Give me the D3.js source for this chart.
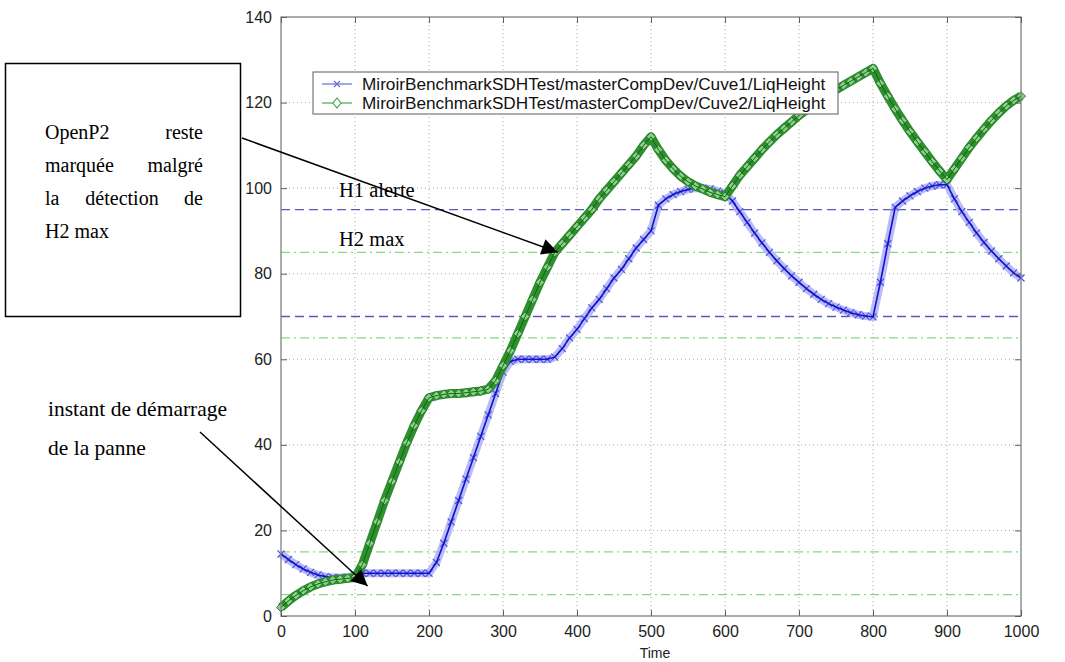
<!DOCTYPE html>
<html><head><meta charset="utf-8">
<script src="https://cdn.jsdelivr.net/npm/d3@7"></script>
<style>body{margin:0;background:#fff}svg{display:block}</style>
</head><body>
<svg id="c" width="1065" height="662"></svg>
<script>
const times = [0,10,20,30,40,50,60,70,80,90,100,110,120,130,140,150,160,170,180,190,200,
210,220,230,240,250,260,270,280,290,300,310,320,330,340,350,360,370,380,390,400,
410,420,430,440,450,460,470,480,490,500,510,520,530,540,550,560,570,580,590,600,
610,620,630,640,650,660,670,680,690,700,710,720,730,740,750,760,770,780,790,800,
810,820,830,840,850,860,870,880,890,900,910,920,930,940,950,960,970,980,990,1000];
const cuve1 = [14.5,13.2,12,11,10.2,9.6,9.2,9,9,9.1,9.5,
10,10,10,10,10,10,10,10,10,10,
12.5,17,22,27,32,37,42,47,52,57,
59.5,60,60,60,60,60,60.5,62.5,65,67,
69.5,72,74,76.5,79,81,83.5,86,88,90,
96,97.5,98.5,99.2,99.7,100,100,99.8,99.3,98.8,
97,94.5,92,89.5,87.2,85,83,81.2,79.5,78,
76.5,75.2,74,73,72.2,71.5,70.9,70.4,70.1,69.9,
78,87,95.5,97,98.2,99.2,100,100.5,100.8,100.8,
97.5,94.5,92,89.5,87.3,85.3,83.5,81.8,80.2,79];
const cuve2 = [2,3.5,4.8,5.9,6.8,7.5,8,8.4,8.6,8.8,9,
12,17,22,27,31.5,36,40.5,44.5,48,51,
51.5,51.8,52,52,52.2,52.4,52.6,53,55,58.5,
62,66,70,74,78,81.5,85,87,89,91,
93,95,97.5,99.5,101.5,103.5,105.5,107.5,110,112,
109,106.5,104.5,102.8,101.5,100.5,99.8,99,98.5,98,
100.5,103,105,107,109,110.8,112.5,114,115.5,117,
118.3,119.5,120.8,122,123,124,125,126,127,128,
124.5,121.5,118.5,115.8,113.2,110.8,108.5,106.2,104,102,
104.5,107,109.5,111.7,113.8,115.8,117.6,119.2,120.5,121.5];
const seriesNames = ["MiroirBenchmarkSDHTest/masterCompDev/Cuve1/LiqHeight","MiroirBenchmarkSDHTest/masterCompDev/Cuve2/LiqHeight"];
const xTicks = [0,100,200,300,400,500,600,700,800,900,1000];
const yTicks = [0,20,40,60,80,100,120,140];
const blueRefs = [95,70];
const greenRefs = [85,65,15,5];
const xLabel = "Time";
const boxLines = [["OpenP2","reste"],["marquée","malgré"],["la","détection","de"],["H2 max"]];
const panneLines = ["instant de démarrage","de la panne"];
const refLabels = ["H1 alerte","H2 max"];

const svg = d3.select("#c");
const L=281,R=1021,T=17,B=616;
const x = d3.scaleLinear().domain([0,1000]).range([L,R]);
const y = d3.scaleLinear().domain([0,140]).range([B,T]);
const sans="Liberation Sans, Arial, sans-serif";

// grid
const g = svg.append("g");
g.selectAll(".gx").data(xTicks.slice(1,-1)).join("line")
 .attr("x1",d=>x(d)).attr("x2",d=>x(d)).attr("y1",T).attr("y2",B)
 .attr("stroke","#aaa").attr("stroke-width",1).attr("stroke-dasharray","1,3");
g.selectAll(".gy").data(yTicks.slice(1,-1)).join("line")
 .attr("y1",d=>y(d)).attr("y2",d=>y(d)).attr("x1",L).attr("x2",R)
 .attr("stroke","#aaa").attr("stroke-width",1).attr("stroke-dasharray","1,3");

// reference lines
g.selectAll(".rb").data(blueRefs).join("line")
 .attr("x1",L).attr("x2",R).attr("y1",d=>y(d)).attr("y2",d=>y(d))
 .attr("stroke","#5a5ab8").attr("stroke-width",1.3).attr("stroke-dasharray","9,5");
g.selectAll(".rg").data(greenRefs).join("line")
 .attr("x1",L).attr("x2",R).attr("y1",d=>y(d)).attr("y2",d=>y(d))
 .attr("stroke","#86d886").attr("stroke-width",1.3).attr("stroke-dasharray","9,4,2,4");

const line = d3.line().x((d,i)=>x(times[i])).y(d=>y(d));

// series 1 (blue, x markers)
svg.append("path").attr("d",line(cuve1)).attr("fill","none").attr("stroke","#aeb0f2").attr("stroke-width",8).attr("stroke-linejoin","round").attr("opacity",0.85);
svg.append("g").selectAll("path").data(cuve1).join("path")
 .attr("d",(d,i)=>{const cx=x(times[i]),cy=y(d),s=3.5;return `M${cx-s},${cy-s}L${cx+s},${cy+s}M${cx-s},${cy+s}L${cx+s},${cy-s}`;})
 .attr("stroke","#5050e0").attr("stroke-width",1.2);
svg.append("path").attr("d",line(cuve1)).attr("fill","none").attr("stroke","#1010d0").attr("stroke-width",1.6);

// series 2 (green, diamonds)
svg.append("path").attr("d",line(cuve2)).attr("fill","none").attr("stroke","#2f8f2f").attr("stroke-width",9).attr("stroke-linejoin","round");
svg.append("g").selectAll("path").data(cuve2).join("path")
 .attr("d",(d,i)=>{const cx=x(times[i]),cy=y(d),s=4.5;return `M${cx},${cy-s}L${cx+s},${cy}L${cx},${cy+s}L${cx-s},${cy}Z`;})
 .attr("fill","#8fce8f").attr("stroke","#1d7a1d").attr("stroke-width",1);
svg.append("path").attr("d",line(cuve2)).attr("fill","none").attr("stroke","#0a6a0a").attr("stroke-width",1);

// axes frame
const ax = svg.append("g");
ax.append("rect").attr("x",L).attr("y",T).attr("width",R-L).attr("height",B-T).attr("fill","none").attr("stroke","#808080").attr("stroke-width",1.3);
const xb = d3.axisBottom(x).tickValues(xTicks).tickSize(-6).tickPadding(10).tickFormat(d3.format("d"));
ax.append("g").attr("transform",`translate(0,${B})`).call(xb).call(s=>{s.select(".domain").remove();s.selectAll("line").attr("stroke","#606060");s.selectAll("text").attr("font-family",sans).attr("font-size",16).attr("fill","#222");});
ax.append("g").attr("transform",`translate(0,${T})`).call(d3.axisTop(x).tickValues(xTicks).tickSize(-6).tickFormat("")).call(s=>{s.select(".domain").remove();s.selectAll("line").attr("stroke","#606060");});
const yl = d3.axisLeft(y).tickValues(yTicks).tickSize(-6).tickPadding(9).tickFormat(d3.format("d"));
ax.append("g").attr("transform",`translate(${L},0)`).call(yl).call(s=>{s.select(".domain").remove();s.selectAll("line").attr("stroke","#606060");s.selectAll("text").attr("font-family",sans).attr("font-size",16).attr("fill","#222");});
ax.append("g").attr("transform",`translate(${R},0)`).call(d3.axisRight(y).tickValues(yTicks).tickSize(-6).tickFormat("")).call(s=>{s.select(".domain").remove();s.selectAll("line").attr("stroke","#606060");});
svg.append("text").attr("x",655).attr("y",658).attr("text-anchor","middle").attr("font-family",sans).attr("font-size",14).attr("fill","#222").text(xLabel);

// legend
const lg = svg.append("g");
lg.append("rect").attr("x",313).attr("y",72).attr("width",525).attr("height",42).attr("fill","#fff").attr("stroke","#777").attr("stroke-width",1.2);
const rows=[{c:"#6a6ad8",m:"x"},{c:"#4aa84a",m:"d"}];
rows.forEach((r,i)=>{
  const yy=84+i*19;
  lg.append("line").attr("x1",322).attr("x2",352).attr("y1",yy).attr("y2",yy).attr("stroke",r.c).attr("stroke-width",1.2);
  if(r.m==="x"){lg.append("path").attr("d",`M334,${yy-3}L340,${yy+3}M334,${yy+3}L340,${yy-3}`).attr("stroke",r.c).attr("stroke-width",1.2);}
  else{lg.append("path").attr("d",`M337,${yy-5}L341,${yy}L337,${yy+5}L333,${yy}Z`).attr("stroke",r.c).attr("fill","#fff").attr("stroke-width",1.2);}
  lg.append("text").attr("x",362).attr("y",yy+6).attr("font-family",sans).attr("font-size",17.2).attr("fill","#111").text(seriesNames[i]);
});

// annotations
const serif="Liberation Serif, Times New Roman, serif";
svg.append("rect").attr("x",5.5).attr("y",63.5).attr("width",235).attr("height",253).attr("fill","none").attr("stroke","#000").attr("stroke-width",1.5);
const bx0=45,bx1=203,by=[139,172,205,238];
boxLines.forEach((words,i)=>{
  words.forEach((w,j)=>{
    let xx,anc;
    if(j===0){xx=bx0;anc="start";}
    else if(j===words.length-1){xx=bx1;anc="end";}
    else {xx=(bx0+bx1)/2-2;anc="middle";}
    svg.append("text").attr("x",xx).attr("y",by[i]).attr("text-anchor",anc).attr("font-family",serif).attr("font-size",20).attr("fill","#000").text(w);
  });
});
panneLines.forEach((t,i)=>svg.append("text").attr("x",48).attr("y",416+i*39).attr("font-family",serif).attr("font-size",21.5).attr("fill","#000").text(t));
refLabels.forEach((t,i)=>svg.append("text").attr("x",339).attr("y",197+i*49).attr("font-family",serif).attr("font-size",20.5).attr("fill","#000").text(t));

svg.append("defs").append("marker").attr("id","ah").attr("viewBox","0 0 10 10").attr("refX",10).attr("refY",5)
 .attr("markerWidth",20).attr("markerHeight",16).attr("markerUnits","userSpaceOnUse").attr("orient","auto")
 .append("path").attr("d","M0,0L10,5L0,10Z").attr("fill","#000");
const arrows=[{x1:242,y1:138,tx:374,ty:85},{x1:200,y1:432,tx:117,ty:7}];
svg.selectAll(".arr").data(arrows).join("line")
 .attr("x1",d=>d.x1).attr("y1",d=>d.y1).attr("x2",d=>x(d.tx)).attr("y2",d=>y(d.ty))
 .attr("stroke","#000").attr("stroke-width",1.5).attr("marker-end","url(#ah)");
</script>
</body></html>
